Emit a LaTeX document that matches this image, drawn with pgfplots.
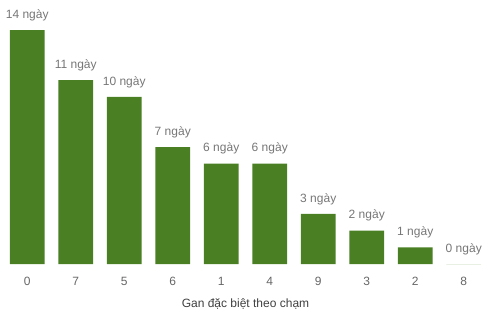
\documentclass[border=0pt]{standalone}
\usepackage{fontspec}
\setmainfont{Liberation Sans}
\usepackage{pgfplots}
\pgfplotsset{compat=1.18}
\usetikzlibrary{calc}
\definecolor{barg}{HTML}{4A7F23}
\definecolor{lblg}{HTML}{767676}
\definecolor{tickg}{HTML}{666666}
\begin{document}
\begin{tikzpicture}[x=1pt,y=1pt]
\begin{axis}[
  name=ax,
  scale only axis,
  width=485pt, height=234pt,
  xmin=-0.5, xmax=9.5, ymin=0, ymax=14,
  /pgf/number format/assume math mode=true,
  axis line style={draw=none},
  major tick length=0pt,
  ytick=\empty,
  xtick={0,...,9},
  xticklabels={0,7,5,6,1,4,9,3,2,8},
  xticklabel style={font=\fontsize{12}{14}\selectfont, text=tickg, anchor=center, yshift=-17pt},
  xlabel={Gan đặc biệt theo chạm},
  xlabel style={font=\fontsize{12}{14}\selectfont, text=black!75, at={(axis description cs:0.5,0)}, anchor=center, yshift=-40pt},
  clip=false,
  nodes near coords={\pgfmathprintnumber{\pgfplotspointmeta} ngày},
  nodes near coords style={font=\fontsize{12}{14}\selectfont, text=lblg, anchor=center, yshift=15pt},
]
\addplot[ybar, bar width=0.72, fill=barg, draw=none] coordinates {
(0,14) (1,11) (2,10) (3,7) (4,6) (5,6) (6,3) (7,2) (8,1) (9,0)};
\end{axis}
\path ($(ax.south west)+(-3pt,-53pt)$) rectangle ($(ax.south west)+(489pt,264pt)$);
\end{tikzpicture}
\end{document}
